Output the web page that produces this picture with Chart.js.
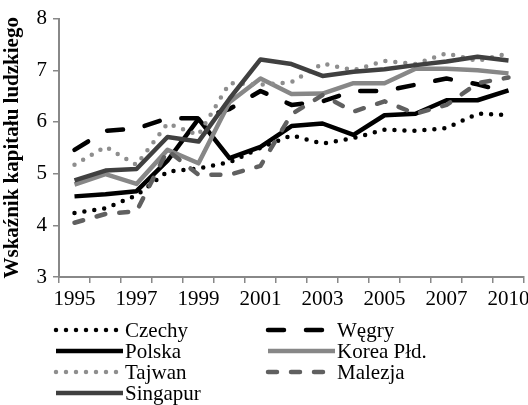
<!DOCTYPE html>
<html>
<head>
<meta charset="utf-8">
<script src="https://cdn.jsdelivr.net/npm/chart.js@4.4.1/dist/chart.umd.min.js"></script>
<style>
  html, body { margin: 0; padding: 0; background: #fff; }
</style>
</head>
<body>
<canvas id="chart" width="528" height="405"></canvas>
<script>
// Lata (uwaga: brak roku 2009 w danych)
const years = ['1995', '1996', '1997', '1998', '1999', '2000', '2001', '2002', '2003', '2004', '2005', '2006', '2007', '2008', '2010'];

// Wskaźnik kapitału ludzkiego
const czechy   = [4.24, 4.33, 4.58, 5.04, 5.10, 5.22, 5.50, 5.74, 5.58, 5.69, 5.85, 5.83, 5.88, 6.16, 6.13];
const wegry    = [5.46, 5.83, 5.87, 6.07, 6.07, 6.25, 6.60, 6.33, 6.40, 6.60, 6.60, 6.72, 6.84, 6.73, 6.57];
const polska   = [4.56, 4.60, 4.66, 5.25, 6.06, 5.30, 5.52, 5.92, 5.97, 5.75, 6.13, 6.16, 6.42, 6.42, 6.61];
const korea    = [4.79, 4.99, 4.80, 5.46, 5.20, 6.38, 6.84, 6.54, 6.55, 6.75, 6.75, 7.03, 7.03, 7.00, 6.94];
const tajwan   = [5.17, 5.52, 5.17, 5.97, 5.75, 6.75, 6.72, 6.77, 7.13, 7.00, 7.18, 7.12, 7.33, 7.18, 7.33];
const malezja  = [4.05, 4.22, 4.27, 5.45, 4.98, 4.98, 5.15, 6.15, 6.52, 6.20, 6.40, 6.16, 6.33, 6.75, 6.86];
const singapur = [4.87, 5.06, 5.09, 5.71, 5.62, 6.45, 7.21, 7.12, 6.89, 6.97, 7.02, 7.10, 7.17, 7.26, 7.19];

const yTicks = [3, 4, 5, 6, 7, 8];

const FONT = '"Liberation Serif", "Times New Roman", serif';

function series(label, data, color, dash, cap) {
    return {
        label: label,
        data: data,
        borderColor: color,
        backgroundColor: color,
        borderWidth: dash && dash[0] === 0 ? 4.5 : 4.5,
        borderDash: dash || [],
        borderCapStyle: cap || 'butt',
        borderJoinStyle: 'round',
        pointRadius: 0,
        tension: 0,
        fill: false
    };
}

const datasets = [
    series('Czechy', czechy, '#000000', [0, 10], 'round'),
    series('Węgry', wegry, '#000000', [16, 22], 'round'),
    series('Polska', polska, '#000000'),
    series('Korea Płd.', korea, '#878787'),
    series('Tajwan', tajwan, '#8e8e8e', [0, 10], 'round'),
    series('Malezja', malezja, '#606060', [9, 14], 'round'),
    series('Singapur', singapur, '#404040')
];
// Excel rysuje ostatnią serię na wierzchu
datasets.forEach((ds, i) => { ds.order = datasets.length - i; });

// Legenda w dwóch kolumnach, jak w oryginale
const gridLegend = {
    id: 'gridLegend',
    afterDraw(chart) {
        const ctx = chart.ctx;
        const sets = chart.data.datasets;
        ctx.save();
        sets.forEach((ds, i) => {
            const col = i % 2;
            const row = Math.floor(i / 2);
            const x = col === 0 ? 54 : 266;
            const y = 330 + row * 21;
            ctx.beginPath();
            ctx.strokeStyle = ds.borderColor;
            ctx.lineWidth = ds.borderWidth;
            ctx.lineCap = ds.borderCapStyle;
            ctx.setLineDash(ds.borderDash);
            ctx.moveTo(x + 2, y);
            ctx.lineTo(x + 69, y);
            ctx.stroke();
            ctx.setLineDash([]);
            ctx.fillStyle = '#000';
            ctx.font = '21px ' + FONT;
            ctx.textBaseline = 'middle';
            ctx.textAlign = 'left';
            ctx.fillText(ds.label, x + 71, y + 1);
        });
        ctx.restore();
    }
};

new Chart(document.getElementById('chart'), {
    type: 'line',
    data: { labels: years, datasets: datasets },
    plugins: [gridLegend],
    options: {
        responsive: false,
        animation: false,
        layout: { padding: { top: 15, right: 4, bottom: 88, left: 0 } },
        plugins: {
            legend: { display: false },
            tooltip: { enabled: false }
        },
        scales: {
            x: {
                type: 'category',
                offset: true,
                grid: { offset: true, drawOnChartArea: false, color: '#888', lineWidth: 1.5, tickLength: 6 },
                border: { color: '#888', width: 2 },
                ticks: {
                    autoSkip: false,
                    maxRotation: 0,
                    color: '#000',
                    padding: 4,
                    font: { family: FONT, size: 21 },
                    callback: (v, i) => (i % 2 === 0 ? years[i] : '')
                },
                afterFit: (scale) => { scale.height = 40; scale.paddingRight = 4; scale.paddingLeft = 0; }
            },
            y: {
                min: yTicks[0],
                max: yTicks[yTicks.length - 1],
                grid: { drawOnChartArea: false, color: '#888', lineWidth: 1.5, tickLength: 6 },
                border: { color: '#888', width: 2 },
                ticks: {
                    stepSize: 1,
                    color: '#000',
                    padding: 6,
                    font: { family: FONT, size: 21 }
                },
                title: {
                    display: true,
                    text: 'Wskaźnik kapitału ludzkiego',
                    color: '#000',
                    padding: { top: 0, bottom: 0 },
                    font: { family: FONT, size: 21, weight: 'bold' }
                },
                afterFit: (scale) => { scale.width = 59; }
            }
        }
    }
});
</script>
</body>
</html>
